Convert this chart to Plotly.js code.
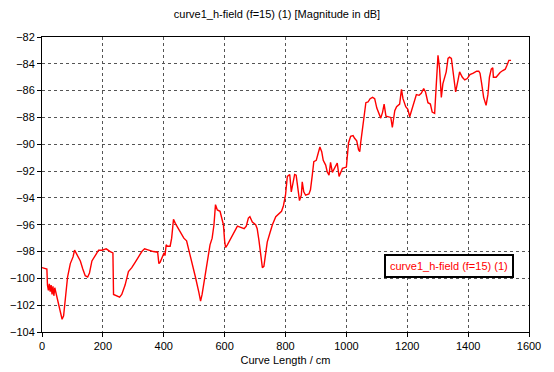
<!DOCTYPE html>
<html><head><meta charset="utf-8">
<script src="https://cdn.plot.ly/plotly-3.0.1.min.js"></script>
<style>html,body{margin:0;padding:0;background:#fff}#chart{width:554px;height:372px}</style>
</head><body><div id="chart"></div>
<script>
const curveLength = [0, 11, 16, 18, 21, 24, 27, 30, 33, 36, 39, 42, 45, 49, 58, 66, 71, 77, 84, 93, 102, 107, 115, 126, 134, 142, 150, 156, 164, 172, 178, 186, 197, 211, 224, 233, 235, 244, 255, 262, 273, 284, 295, 306, 317, 328, 337, 350, 366, 380, 384, 388, 397, 401, 404, 408, 412, 421, 426, 432, 438, 446, 455, 466, 475, 482, 493, 504, 515, 521, 526, 535, 543, 552, 559, 565, 570, 576, 585, 590, 596, 600, 603, 609, 620, 631, 642, 653, 664, 671, 678, 683, 691, 702, 707, 713, 718, 724, 729, 735, 740, 749, 757, 768, 779, 787, 793, 800, 806, 814, 819, 824, 830, 835, 841, 846, 852, 855, 860, 866, 877, 882, 888, 893, 901, 908, 913, 919, 924, 932, 937, 943, 948, 954, 959, 965, 970, 976, 981, 987, 1000, 1007, 1014, 1022, 1027, 1034, 1040, 1044, 1047, 1053, 1058, 1064, 1071, 1078, 1086, 1093, 1100, 1108, 1113, 1119, 1124, 1130, 1137, 1146, 1151, 1159, 1165, 1175, 1181, 1186, 1195, 1202, 1208, 1213, 1219, 1230, 1239, 1246, 1254, 1260, 1268, 1276, 1282, 1290, 1295, 1301, 1306, 1312, 1317, 1328, 1334, 1339, 1345, 1352, 1359, 1367, 1372, 1381, 1389, 1397, 1406, 1417, 1428, 1435, 1439, 1444, 1451, 1459, 1465, 1470, 1476, 1481, 1483, 1492, 1498, 1505, 1514, 1522, 1527, 1534, 1541];
const magnitudeDb = [-99.2, -99.3, -99.3, -100.5, -100.9, -100.4, -101.0, -100.5, -101.2, -100.6, -101.3, -100.7, -101.0, -101.5, -102.2, -103.05, -102.8, -101.4, -99.9, -98.9, -98.4, -97.9, -98.2, -98.7, -99.3, -99.8, -99.9, -99.6, -98.7, -98.4, -98.2, -97.9, -97.9, -97.8, -98.0, -98.1, -101.2, -101.3, -101.4, -101.2, -100.5, -99.5, -99.2, -98.8, -98.4, -98.0, -97.8, -97.9, -98.0, -98.05, -98.9, -98.8, -98.2, -98.1, -98.3, -97.5, -97.6, -97.6, -97.0, -95.6, -95.9, -96.2, -96.6, -97.0, -97.2, -97.8, -98.8, -99.9, -101.0, -101.7, -101.2, -100.0, -98.7, -97.5, -97.0, -96.0, -94.5, -94.9, -95.0, -95.5, -96.0, -97.2, -97.7, -97.5, -97.0, -96.6, -96.1, -96.2, -96.3, -96.1, -95.5, -95.4, -95.8, -96.0, -96.3, -97.2, -98.3, -99.2, -99.1, -98.0, -97.3, -96.6, -96.0, -95.4, -95.2, -95.0, -94.6, -93.8, -92.4, -92.25, -93.55, -92.8, -92.25, -92.3, -93.3, -94.2, -93.8, -92.8, -93.55, -93.8, -93.7, -93.4, -92.3, -91.3, -91.2, -90.7, -90.2, -90.55, -91.2, -91.55, -92.05, -92.3, -91.35, -92.1, -91.9, -91.55, -91.4, -92.4, -92.05, -91.8, -91.7, -89.9, -89.4, -89.35, -89.55, -89.75, -90.4, -90.55, -89.9, -88.8, -87.7, -86.9, -86.85, -86.6, -86.5, -86.6, -87.3, -87.8, -88.05, -87.6, -87.0, -87.9, -87.95, -88.0, -88.75, -87.5, -87.2, -87.0, -85.9, -86.6, -87.2, -87.4, -87.95, -87.6, -87.1, -86.3, -86.35, -86.2, -85.85, -86.1, -86.9, -87.0, -87.6, -87.7, -85.7, -83.36, -84.3, -86.5, -85.5, -84.6, -83.6, -83.5, -83.6, -84.7, -86.1, -85.2, -84.6, -85.0, -85.2, -85.1, -84.8, -84.7, -84.55, -84.55, -84.7, -85.4, -86.5, -87.1, -86.3, -85.0, -84.4, -84.3, -85.0, -85.0, -84.8, -84.65, -84.5, -84.4, -84.15, -83.74, -83.74];
const seriesName = "curve1_h-field (f=15) (1)";
const chartTitle = "curve1_h-field (f=15) (1) [Magnitude in dB]";
const xTitle = "Curve Length / cm";

const font = "Liberation Sans, Arial, sans-serif";
const axisCommon = {
  showline: true, linecolor: "#000", linewidth: 1, mirror: true,
  ticks: "outside", ticklen: 4, tickcolor: "#000",
  showgrid: true, gridcolor: "#555", griddash: "dot", gridwidth: 1,
  zeroline: false, tickfont: {family: font, size: 11, color: "#000"}
};
Plotly.newPlot("chart", [{
  x: curveLength, y: magnitudeDb, type: "scatter", mode: "lines",
  name: seriesName, line: {color: "#ff0000", width: 1.4}
}], {
  width: 554, height: 372,
  margin: {l: 42, r: 25, t: 37, b: 40},
  paper_bgcolor: "#fff", plot_bgcolor: "#fff",
  showlegend: false,
  title: {text: chartTitle, font: {family: font, size: 11, color: "#000"}, x: 0.5, xanchor: "center", xref: "container", y: 0.962, yref: "container", yanchor: "middle"},
  xaxis: Object.assign({}, axisCommon, {range: [0, 1600], dtick: 200,
    title: {text: xTitle, font: {family: font, size: 11, color: "#000"}, standoff: 5}}),
  yaxis: Object.assign({}, axisCommon, {range: [-104, -82], dtick: 2}),
  annotations: [{
    xref: "paper", yref: "paper", x: 0.836, y: 0.224, xanchor: "center", yanchor: "middle",
    text: seriesName, showarrow: false,
    font: {family: font, size: 11, color: "#ff0000"},
    bgcolor: "#fff", bordercolor: "#000", borderwidth: 2, borderpad: 4
  }]
}, {staticPlot: true});
</script></body></html>
